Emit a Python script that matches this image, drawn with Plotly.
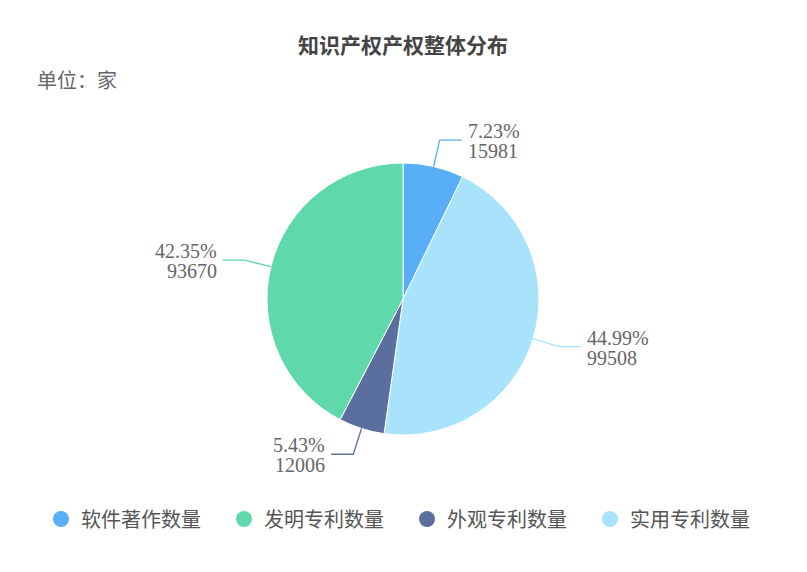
import math
import plotly.graph_objects as go

# ---- data ----
slice_labels = ["软件著作数量", "实用专利数量", "外观专利数量", "发明专利数量"]
slice_values = [15981, 99508, 12006, 93670]
slice_colors = ["#58AFF8", "#A8E2FB", "#5A6F9E", "#5FD9AB"]
legend_order = ["软件著作数量", "发明专利数量", "外观专利数量", "实用专利数量"]
title_text = "知识产权产权整体分布"
unit_text = "单位：家"

# ---- layout constants (screen pixels; page body has an 8px margin) ----
OFF = 8
W, H = 807 - 2 * OFF, 572 - 2 * OFF
CX, CY, R = 403, 299, 136
LINE1, LINE2, TXT_GAP = 27, 22, 4


def px(x):
    return (x - OFF) / W


def py(y):
    return 1 - (y - OFF) / H


color_of = dict(zip(slice_labels, slice_colors))

fig = go.Figure()
fig.add_trace(go.Pie(
    labels=slice_labels, values=slice_values, sort=False, direction="clockwise",
    rotation=0, textinfo="none", showlegend=False,
    marker=dict(colors=slice_colors, line=dict(color="white", width=1)),
    domain=dict(x=[px(CX - R), px(CX + R)], y=[py(CY + R), py(CY - R)]),
))

for name in legend_order:
    fig.add_trace(go.Scatter(
        x=[None], y=[None], mode="markers", name=name,
        marker=dict(symbol="circle", size=18, color=color_of[name]),
    ))

total = sum(slice_values)
cum = 0
shapes, annotations = [], []
for name, v, c in zip(slice_labels, slice_values, slice_colors):
    theta = 2 * math.pi * (cum + v / 2) / total
    cum += v
    s, co = math.sin(theta), math.cos(theta)
    x0, y0 = CX + R * s, CY - R * co
    x1, y1 = CX + (R + LINE1) * s, CY - (R + LINE1) * co
    sign = 1 if s >= 0 else -1
    x2 = x1 + sign * LINE2
    path = f"M {px(x0)} {py(y0)} L {px(x1)} {py(y1)} L {px(x2)} {py(y1)}"
    shapes.append(dict(type="path", path=path, xref="paper", yref="paper",
                       line=dict(color=c, width=1.3)))
    pct = f"{v / total * 100:.2f}%"
    anchor = "left" if sign > 0 else "right"
    tx = x2 + sign * TXT_GAP
    for txt, dy in ((pct, -9), (str(v), 11)):
        annotations.append(dict(
            text=txt, x=px(tx), y=py(y1 + dy), xref="paper", yref="paper",
            xanchor=anchor, yanchor="middle", showarrow=False,
            font=dict(family="Liberation Serif", size=20, color="#666666"),
        ))

annotations.append(dict(
    text=unit_text, x=px(35), y=py(80), xref="paper", yref="paper",
    xanchor="left", yanchor="middle", showarrow=False,
    font=dict(family="Noto Sans CJK SC", size=20, color="#666666"),
))

fig.update_layout(
    width=W, height=H, autosize=False,
    margin=dict(l=0, r=0, t=0, b=0),
    paper_bgcolor="white", plot_bgcolor="white",
    title=dict(text=f"<b>{title_text}</b>", x=px(403), xanchor="center",
               y=py(46), yanchor="middle", yref="container",
               font=dict(family="Noto Sans CJK SC", size=21, color="#444444")),
    xaxis=dict(visible=False), yaxis=dict(visible=False),
    showlegend=True,
    legend=dict(orientation="h", x=px(407), xanchor="center", y=py(519),
                yanchor="middle", entrywidth=138, entrywidthmode="pixels",
                font=dict(family="Noto Sans CJK SC", size=20, color="#555555"),
                itemclick=False, itemdoubleclick=False),
    shapes=shapes, annotations=annotations,
)

fig.write_html("out.html")
